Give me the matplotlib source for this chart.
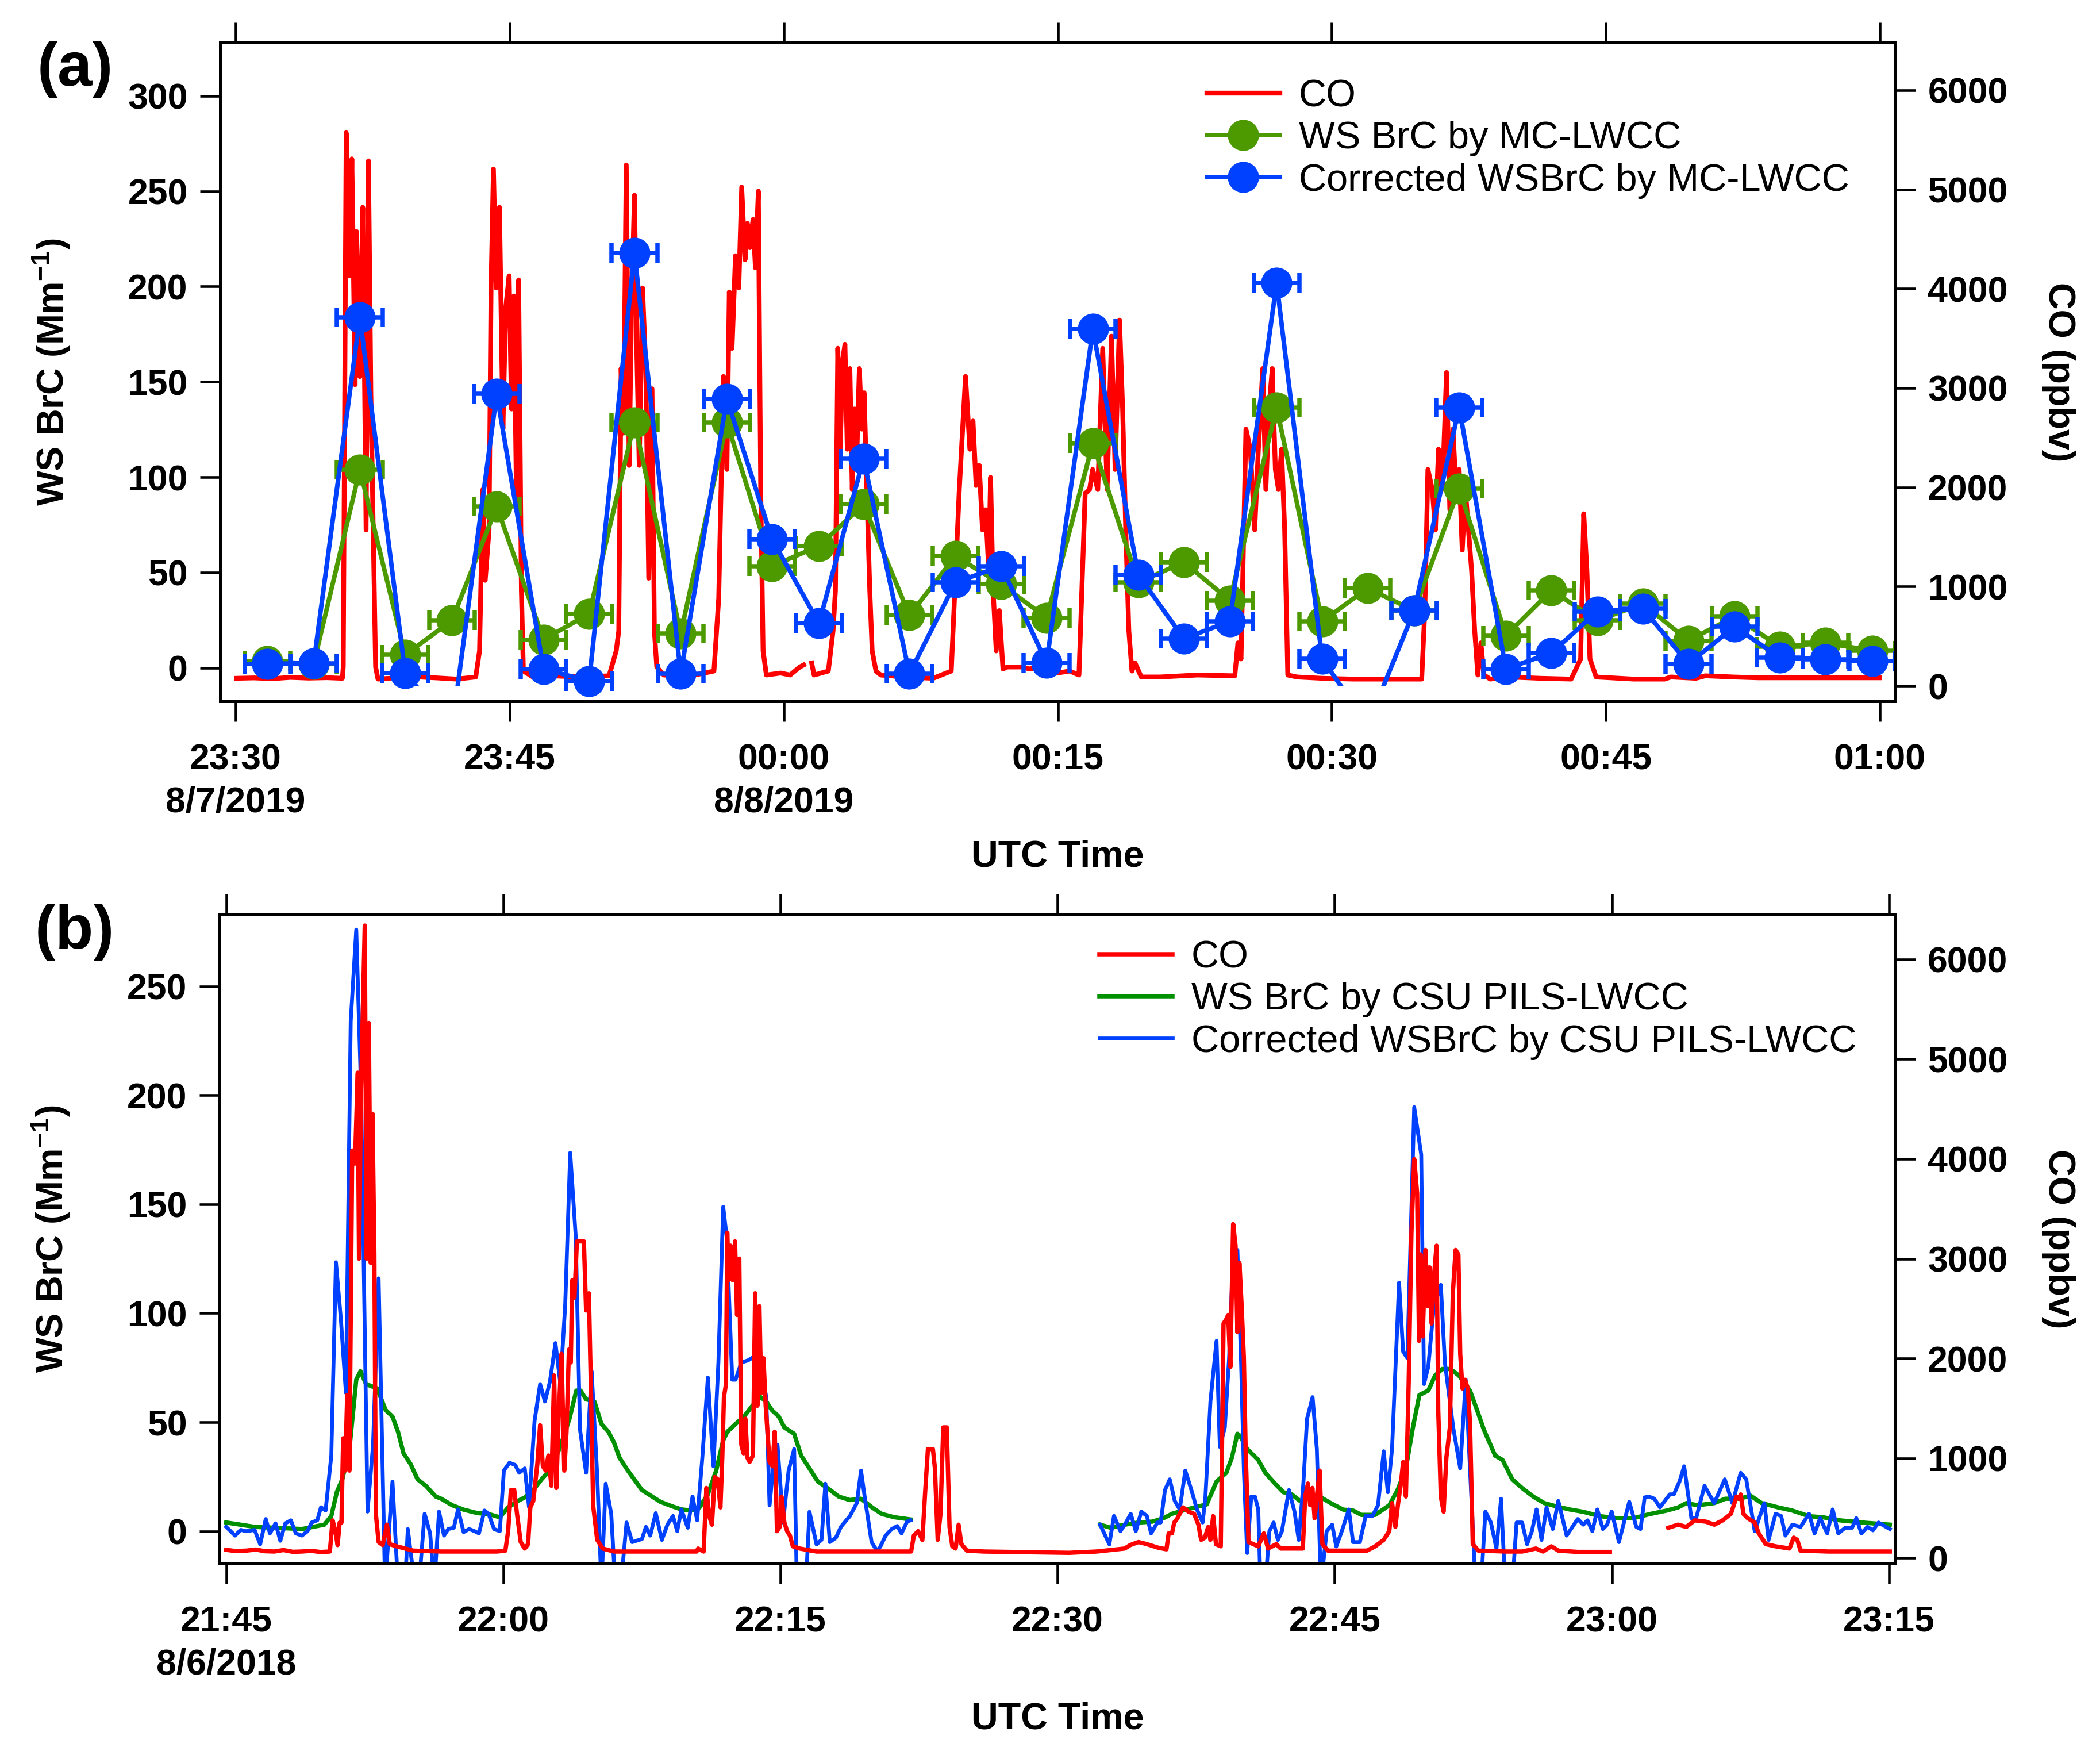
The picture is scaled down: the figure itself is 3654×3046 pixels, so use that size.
import numpy as np
import matplotlib
matplotlib.use("Agg")
import matplotlib.pyplot as plt
from matplotlib.lines import Line2D
from matplotlib.patches import Rectangle

plt.rcParams['font.family'] = ['Liberation Sans', 'DejaVu Sans']
plt.rcParams['font.weight'] = 'bold'
plt.rcParams['mathtext.fontset'] = 'custom'
plt.rcParams['mathtext.rm'] = 'Liberation Sans:bold'
plt.rcParams['mathtext.default'] = 'rm'

# ---------------- panel (a): 8/7/2019 23:30 - 01:00, minutes after 23:30
a_ticks = [0, 15, 30, 45, 60, 75, 90]
a_ticklabels = ['23:30\n8/7/2019', '23:45', '00:00\n8/8/2019', '00:15', '00:30', '00:45', '01:00']

mc_t = [1.74, 4.27, 6.80, 9.28, 11.84, 14.29, 16.85, 19.35, 21.83, 24.36, 26.89, 29.36,
        31.93, 34.37, 36.88, 39.40, 41.91, 44.39, 46.92, 49.41, 51.90, 54.42, 56.98, 59.47,
        61.96, 64.51, 66.97, 69.53, 72.02, 74.54, 77.03, 79.52, 82.05, 84.53, 87.02, 89.58]
mc_brc = [3.6, 2.0, 104, 6.8, 24.8, 84.6, 14.8, 28.3, 128.8, 18.0, 128.8, 53.3,
          63.9, 85.7, 27.5, 58.6, 43.8, 26.2, 117.8, 44.8, 55.4, 35.3, 136.5, 24.3,
          41.7, 30.0, 94.1, 16.9, 40.6, 24.8, 33.6, 14.2, 26.9, 11.0, 13.1, 8.9]
mc_brc_corr = [2.1, 2.4, 184, -2.7, -32, 143.7, -0.6, -7, 217.7, -3.1, 141, 67.5,
               23.3, 109.6, -3.1, 44.8, 53.3, 2.6, 177.7, 48.7, 15.3, 24.3, 202, 4.7,
               -30, 30.0, 136.5, -0.6, 7.8, 29.6, 31.1, 2.1, 21.6, 5.3, 4.4, 3.6]
mc_xerr = 1.25

co_a_t = [0.05, 1.0, 2.0, 3.0, 4.0, 5.0, 5.84, 5.89, 6.05, 6.23, 6.36, 6.54, 6.62, 6.80, 6.96,
          7.14, 7.27, 7.40, 7.53, 7.66, 7.79, 8.45, 8.97, 9.5, 10.01, 11.0, 12.10, 13.14,
          13.35, 13.53, 13.66, 13.87, 13.98, 14.11, 14.26, 14.44, 14.63, 14.78, 14.97, 15.10,
          15.23, 15.38, 15.49, 15.64, 15.75, 16.27, 17.31, 18.88, 20.44, 20.83, 20.97, 21.10,
          21.23, 21.38, 21.54, 21.67, 21.83, 21.96, 22.09, 22.27, 22.45, 22.61, 22.79, 22.92,
          23.05, 23.44, 24.10, 25.14, 26.18, 26.44, 26.70, 26.89, 27.02, 27.17, 27.36, 27.54,
          27.70, 27.88, 28.01, 28.14, 28.32, 28.45, 28.61, 28.74, 28.87, 29.05, 29.83, 30.35,
          30.88, 31.09, 31.3, 31.53, 31.66, 32.05, 32.44, 32.70, 32.83, 32.96, 33.09, 33.22,
          33.35, 33.48, 33.62, 33.75, 33.88, 34.01, 34.14, 34.27, 34.40, 34.58, 34.71, 34.84,
          35.05, 35.31, 36.61, 38.18, 39.17, 39.61, 39.95, 40.19, 40.36, 40.53, 40.70, 40.88,
          41.05, 41.22, 41.32, 41.46, 41.63, 41.80, 42.00, 42.24, 43.09, 43.43, 44.12, 44.97,
          45.65, 46.16, 46.50, 46.74, 46.91, 47.19, 47.46, 47.70, 47.94, 48.14, 48.38, 48.55,
          48.72, 48.89, 49.06, 49.23, 49.57, 50.60, 52.64, 54.69, 54.86, 55.03, 55.30, 55.54,
          55.78, 55.98, 56.22, 56.39, 56.56, 56.74, 56.91, 57.08, 57.25, 57.42, 57.59, 58.10,
          59.46, 61.17, 62.87, 64.92, 65.09, 65.26, 65.50, 65.67, 65.84, 66.05, 66.28, 66.46,
          66.63, 66.80, 66.97, 67.14, 67.31, 67.48, 67.65, 67.82, 67.99, 68.16, 68.33, 68.67,
          69.70, 71.40, 73.10, 73.62, 73.79, 73.96, 74.13, 74.47, 76.52, 78.22, 78.56, 79.93,
          80.44, 81.97, 83.34, 86.75, 89.99]
co_a = [76, 80, 72, 85, 78, 82, 76, 190, 5572, 4130, 5308, 3034, 4576, 3116, 4820,
        1571, 5288, 2952, 1571, 190, 68, 76, 109, 95, 89, 80, 68, 89,
        352, 1977, 1063, 1571, 4008, 5206, 4008, 4820, 2586, 3805, 4130, 2789,
        3927, 1774, 4089, 962, 149, 89, 101, 89, 101, 352, 555, 3196,
        2546, 5247, 2221, 3805, 4942, 3359, 2221, 4008, 3196, 1084, 2992, 555,
        190, 109, 101, 109, 149, 880, 3116, 2180, 3967, 3400, 4333, 4008,
        5024, 4292, 4658, 4414, 4698, 4211, 4983, 1977, 352, 109, 129, 109,
        190, 210, np.nan, 230, 109, 129, 149, 555, 962, 3400, 2383, 3278,
        3440, 2383, 3196, 1977, 2789, 2383, 3196, 2586, 2952, 1774, 962, 352,
        149, 109, 89, 76, 149, 1977, 3116, 2383, 2667, 2018, 2221, 1571,
        1774, 1165, 2099, 962, 352, 758, 170, 190, 190, 170, 190, 129,
        149, 109, 1937, 1977, 2180, 1977, 3400, 1977, 3522, 2180, 3684, 2789,
        1571, 555, 149, 230, 89, 89, 109, 101, 433, 271, 2586, 2383,
        1571, 2383, 3196, 1977, 2789, 3196, 2180, 1977, 2383, 1571, 109, 89,
        76, 68, 68, 68, 758, 2180, 1977, 1571, 2383, 1977, 3156, 1774,
        2586, 1977, 2180, 1368, 1977, 1571, 1165, 555, 109, 433, 109, 68,
        89, 76, 68, 271, 1733, 1165, 271, 89, 68, 68, 89, 76,
        101, 89, 81, 81, 81]

# ---------------- panel (b): 8/6/2018 21:45 - 23:15, minutes after 21:45
b_ticks = [0, 15, 30, 45, 60, 75, 90]
b_ticklabels = ['21:45\n8/6/2018', '22:00', '22:15', '22:30', '22:45', '23:00', '23:15']

pils_t = [0.0, 1.54, 2.6, 4.1, 5.31, 5.69, 5.99, 6.29, 6.67, 7.04, 7.27, 7.57, 8.17, 8.63,
          9.0, 9.3, 9.6, 9.98, 10.36, 10.81, 11.34, 11.64, 12.24, 12.85, 13.6, 14.2, 14.81,
          15.26, 15.79, 16.16, 16.62, 17.07, 17.6, 18.12, 18.58, 18.95, 19.18, 19.48, 19.93,
          20.31, 20.69, 20.99, 21.29, 21.74, 22.5, 23.13, 23.5, 24.11, 24.64, 25.16, 25.62,
          26.07, 26.52, 26.9, 27.12, 27.57, 28.03, 28.48, 28.93, 29.23, 29.53, 29.91, 30.21,
          30.74, 31.12, 31.49, 32.02, 32.55, 33.15, 33.76, 34.36, 34.96, 35.49, 36.17, 37.04,
          42.0,
          47.3, 47.87, 48.63, 49.38, 50.13, 50.74, 51.19, 51.79, 52.39, 53.07, 53.6, 54.13,
          54.43, 54.73, 54.88, 55.26, 55.86, 56.24, 56.77, 57.22, 57.67, 58.12, 58.73, 59.18,
          59.78, 60.46, 60.99, 61.44, 62.19, 62.95, 63.4, 63.85, 64.23, 64.58, 65.06, 65.43,
          65.81, 66.26, 66.72, 67.32, 67.7, 68.07, 68.68, 69.08, 69.61, 70.14, 70.74, 71.34,
          71.95, 72.7, 73.45, 74.36, 75.26, 76.17, 77.07, 77.98, 78.58, 79.03, 79.64, 80.54,
          81.14, 81.9, 82.5, 83.1, 84.01, 84.76, 85.67, 86.42, 87.32, 88.53, 90.04]
pils_brc = [4, 2, 1.6, 1, 3, 7, 18, 24, 37.7, 69.5, 73.4, 67.5, 65.5, 55.6,
            52.6, 45.6, 35.7, 30.8, 23.8, 20.8, 15.9, 14.9, 11.9, 9.9, 8.3, 7.9, 6.4,
            10.9, 13.9, 15.5, 18.9, 23.8, 28.8, 39.7, 51.6, 64.5, 64.5, 60.5, 59.5,
            49.2, 45.6, 40.7, 33.7, 27.8, 18.9, 15.5, 13.5, 11.5, 10, 9.5, 10.9,
            16.9, 27.8, 41.7, 45.6, 49.2, 52.6, 57.6, 61.5, 59.5, 55.6, 52.6, 47.6,
            44.7, 34.7, 29.8, 22.8, 19.8, 15.9, 14.3, 14.9, 10.9, 7.9, 6.4, 5.4,
            np.nan,
            3, 1.6, 3, 4, 4.4, 6, 8, 9.5, 10.9, 12.3, 22.8, 26.8,
            33.7, 44.7, 43.7, 37.7, 32.7, 26.8, 21.8, 17.9, 16.9, 13.9, 15.9, 15.9,
            12.9, 9.9, 9.5, 7.5, 7.5, 11.9, 18.9, 28.8, 47.6, 62.5, 64.5, 71.4,
            74.4, 74.4, 71.4, 64.5, 55.6, 46.6, 34.7, 32.7, 23.8, 19.8, 15.9, 12.9,
            11.5, 10, 8.9, 6.9, 6, 6, 7.9, 9.5, 10.9, 12.9, 11.9, 12.9,
            14.9, 14.9, 16.3, 12.9, 10.9, 9.5, 6.9, 6.4, 5, 4, 3]

pils_corr_t = [0.0, 0.48, 0.79, 1.09, 1.54, 1.84, 2.14, 2.37, 2.67, 2.93, 3.2, 3.5, 3.77, 4.1,
               4.4, 4.63, 4.93, 5.13, 5.38, 5.69, 5.94, 6.21, 6.48, 6.74, 7.04, 7.3, 7.65, 7.95,
               8.25, 8.6, 9.0, 9.3, 9.68, 9.83, 10.21, 10.43, 10.74, 11.04, 11.26, 11.52, 11.79,
               12.02, 12.32, 12.55, 12.85, 13.15, 13.45, 13.68, 13.98, 14.2, 14.5, 14.81, 15.03,
               15.33, 15.64, 15.86, 16.16, 16.39, 16.69, 16.99, 17.25, 17.52, 17.82, 18.09, 18.35,
               18.62, 18.92, 19.15, 19.48, 19.78, 20.08, 20.31, 20.54, 20.84, 21.06, 21.36, 21.67,
               21.97, 22.5, 22.72, 22.95, 23.25, 23.58, 23.88, 24.18, 24.41, 24.64, 24.98, 25.24,
               25.49, 25.77, 26.07, 26.37, 26.64, 26.9, 27.09, 27.39, 27.57, 27.88, 28.25, 28.63,
               28.93, 29.23, 29.41, 29.61, 29.84, 30.14, 30.44, 30.74, 30.89, 31.1, 31.37, 31.57,
               31.95, 32.22, 32.43, 32.67, 33.0, 33.27, 33.76, 34.13, 34.36, 34.59, 34.93, 35.23,
               35.41, 35.69, 36.02, 36.32, 36.55, 36.85, 37.04,
               42.0,
               47.3, 47.8, 48.05, 48.4, 48.7, 48.96, 49.23, 49.53, 49.83, 50.06, 50.4, 50.58,
               50.81, 51.07, 51.34, 51.61, 51.91, 52.24, 52.54, 52.85, 53.0, 53.27, 53.6, 53.78,
               54.05, 54.28, 54.5, 54.73, 54.93, 55.08, 55.26, 55.48, 55.68, 55.86, 55.98, 56.24,
               56.46, 56.69, 56.92, 57.14, 57.52, 57.82, 58.05, 58.3, 58.5, 58.8, 59.03, 59.25,
               59.56, 59.86, 60.08, 60.38, 60.76, 60.99, 61.36, 61.67, 62.04, 62.34, 62.65, 62.87,
               63.1, 63.48, 63.7, 63.93, 64.3, 64.68, 64.83, 65.06, 65.36, 65.74, 65.96, 66.41,
               66.79, 67.09, 67.4, 67.62, 67.92, 68.15, 68.45, 68.75, 69.0, 69.23, 69.61, 69.84,
               70.14, 70.41, 70.67, 70.92, 71.19, 71.46, 71.8, 72.1, 72.55, 73.15, 73.45, 73.68,
               73.94, 74.21, 74.51, 74.74, 74.99, 75.38, 75.94, 76.32, 76.55, 76.77, 77.0, 77.3,
               77.6, 78.13, 78.35, 78.66, 78.91, 79.3, 79.56, 80.01, 80.54, 81.11, 81.52, 81.97,
               82.27, 82.73, 83.25, 83.48, 83.86, 84.16, 84.39, 84.76, 85.21, 85.67, 85.97, 86.27,
               86.65, 86.95, 87.25, 87.63, 88.0, 88.23, 88.5, 88.83, 89.13, 89.43, 90.04]
pils_brc_corr = [2, -2, 0.6, 0, 0.6, -6, 5.6, -1, 3.6, -4.4, 3.6, 5, -1, -2,
                 0, 4, 5, 11, 9.5, 34.7, 123.4, 97, 63.5, 234, 276, 202, 9, 39.7,
                 116, -25, 22.8, -25, -25, 1, -25, -25, 8, -1, -25, 9, -2,
                 1, 1.6, 10, -0.4, 1, 0, -1, 9.5, 8, 1, 0, 27.8,
                 31.4, 30.4, 26.8, 28.8, 11, 50.6, 67.5, 59.5, 68.5, 86.3, 67.5, 104,
                 173.6, 135, 46.6, 26.8, 73.4, 25.8, -25, 21.8, 8, -25, -25, 4,
                 -5, -3.6, 2, -2, 8.3, -4, 3, 7, 0, 10, 1.6, 15.9,
                 5, 33.7, 70.5, 29.8, 77.4, 148.8, 135, 69.5, 69.5, 77.4, 78.4, 80.4,
                 75.4, 61.5, 11.9, 29.8, 39.7, 4, 27.8, 37.7, -25, -25, -25, 8.9,
                 -6, -4, 21.8, -5, -3, 2, 7, 12.9, 27.8, 13.9, -5, -9,
                 -7, -2, 1, 2.4, -1, 4.4, 5,
                 np.nan,
                 3, -6, 7, 0, 4, 8, 0, 9, 7, -1, 4, 4,
                 18.9, 23.8, 13.9, 10, 27.8, 18.9, 10, 4, 15.9, 59.5, 87.3, 38.7,
                 47.6, 79.4, 127, 129, 77.4, 27.8, -10, 15.9, 15.9, 10, -25, -25,
                 0, 4, -4, 0, 18.9, 9, -4, 21.8, 51.6, 61.5, 37.7, -25,
                 0, 3, -7, 0, 10, -5, -5, 7, 7, 11.9, 36.7, 17.9,
                 37.7, 114, 82.4, 79.4, 194.5, 172.7, 67.5, 75.4, 103, 113, 77.4, 47.6,
                 28.8, 69.5, 13.9, -25, -25, 9, 4, -8, 14.9, -25, -25, 4,
                 4, -6, 0, 10, -4, 10.9, 1, 13.9, -2, 5.6, 3, 5,
                 0, 10, 1, 3, 9, -5, 13.5, 2, 1, 15.5, 15.9, 14.9,
                 10.9, 16.9, 16.9, 22.8, 29.8, 6, 6, 20.8, 12.9, 23.8, 12.9, 26.8,
                 23.8, 0, 12.9, -4, 8, 7, -2, 3, 2, 8, -1, 6,
                 -1, 10, -1, 1.6, 1.6, 6, -1, 2, 0.4, 4, 1]

co_b_t = [0.0, 0.5, 1.09, 1.6, 2.1, 2.6, 3.1, 3.6, 4.1, 4.6, 5.1, 5.61, 5.76, 5.91, 6.03,
          6.14, 6.24, 6.33, 6.44, 6.55, 6.67, 6.82, 6.97, 7.12, 7.19, 7.30, 7.50, 7.60, 7.72,
          7.83, 7.92, 8.02, 8.10, 8.25, 8.47, 8.70, 8.85, 9.23, 10.13, 11.64, 14.66, 15.11,
          15.26, 15.41, 15.59, 15.74, 15.94, 16.16, 16.34, 16.46, 16.62, 16.84, 16.99, 17.14,
          17.29, 17.44, 17.60, 17.75, 17.87, 18.00, 18.15, 18.30, 18.42, 18.55, 18.65, 18.73,
          18.85, 18.98, 19.18, 19.36, 19.48, 19.63, 19.75, 19.86, 20.08, 20.38, 20.99, 23.22,
          25.46, 25.54, 25.84, 25.99, 26.14, 26.29, 26.44, 26.60, 26.75, 26.85, 26.94, 27.05,
          27.12, 27.20, 27.30, 27.42, 27.54, 27.65, 27.77, 27.88, 28.00, 28.10, 28.21, 28.33,
          28.51, 28.63, 28.75, 28.86, 28.96, 29.08, 29.20, 29.31, 29.41, 29.57, 29.69, 29.81,
          29.96, 30.06, 30.21, 30.36, 30.51, 30.67, 31.04, 31.95, 37.07, 37.22, 37.45, 37.68,
          37.83, 37.98, 38.25, 38.36, 38.51, 38.66, 38.81, 39.00, 39.15, 39.30, 39.48, 39.64,
          39.79, 40.09, 41.00, 45.61, 47.12, 48.63, 48.93, 49.38, 49.83, 50.43, 50.89, 51.01,
          51.19, 51.31, 51.49, 51.79, 52.09, 52.39, 52.62, 52.77, 52.97, 53.15, 53.27, 53.42,
          53.57, 53.83, 53.98, 54.13, 54.23, 54.35, 54.50, 54.63, 54.73, 54.84, 54.96, 55.08,
          55.18, 55.33, 55.86, 56.16, 56.39, 56.84, 57.07, 58.27, 58.40, 58.55, 58.67, 58.79,
          58.91, 59.03, 59.18, 59.33, 59.63, 61.74, 62.19, 62.65, 62.95, 63.10, 63.28, 63.43,
          63.58, 63.70, 63.85, 64.00, 64.15, 64.30, 64.46, 64.56, 64.65, 64.76, 64.91, 65.03,
          65.13, 65.24, 65.39, 65.51, 65.60, 65.74, 65.89, 66.04, 66.23, 66.39, 66.54, 66.69,
          66.79, 66.91, 67.05, 67.20, 67.32, 67.47, 67.77, 69.25, 70.14, 70.89, 71.27, 71.72,
          72.10, 73.15, 74.89, 76.5, 78.05, 78.58, 79.03, 79.48, 80.09, 80.54, 80.99, 81.44,
          81.75, 81.87, 81.97, 82.12, 82.35, 82.73, 82.95, 83.33, 83.86, 84.61, 84.84, 85.03,
          85.21, 86.72, 90.04]
co_b = [82, 70, 74, 85, 68, 65, 80, 62, 65, 72, 60, 65, 377, 269, 130,
        355, 355, 1200, 876, 1634, 876, 4084, 3953, 4864, 3000, 4690, 6338, 3000, 5362,
        2956, 4452, 3043, 442, 160, 130, 334, 139, 117, 74, 65, 65, 74,
        269, 681, 681, 442, 160, 95, 139, 507, 572, 941, 1331, 919,
        876, 1027, 724, 1829, 702, 1439, 2046, 876, 1266, 2089, 1959, 2783,
        2610, 3173, 3173, 3173, 2480, 2653, 1613, 529, 182, 95, 65, 65,
        65, 95, 65, 702, 420, 334, 811, 789, 507, 1006, 1613, 1743,
        3260, 2783, 3130, 2783, 3173, 2436, 3000, 1136, 1049, 1396, 1006, 962,
        1027, 2653, 1526, 2523, 1656, 2003, 1526, 1222, 962, 919, 1266, 269,
        312, 616, 355, 269, 225, 117, 95, 65, 65, 225, 269, 182,
        659, 1092, 1092, 897, 182, 442, 1309, 1309, 312, 117, 95, 334,
        139, 74, 65, 52, 65, 95, 130, 160, 139, 104, 87, 247,
        247, 355, 399, 507, 464, 442, 334, 182, 204, 312, 182, 420,
        139, 117, 2350, 2393, 2436, 1916, 3347, 3130, 2263, 2956, 2523, 2003,
        1049, 160, 117, 247, 95, 139, 95, 95, 616, 746, 529, 702,
        399, 616, 876, 139, 74, 74, 117, 182, 269, 551, 312, 551,
        746, 962, 616, 1743, 3260, 3997, 3650, 2176, 3043, 2220, 3087, 2523,
        2913, 2350, 2870, 3130, 1483, 616, 464, 1006, 1309, 2653, 3087, 3043,
        2046, 1699, 1786, 1699, 1353, 139, 74, 65, 65, 95, 65, 117,
        74, 61, 61, np.nan, 303, 334, 312, 377, 364, 334, 377, 442,
        616, 594, 637, 442, 399, 355, 247, 139, 117, 95, 204, 182,
        74, 65, 65]

red = '#ff0000'
green_a = '#4c9a00'
green_b = '#009000'
blue = '#0040ff'

fig = plt.figure(figsize=(3654 / 300, 3046 / 300), dpi=300)
ax_a = fig.add_axes([0.10482, 0.59947, 0.79776, 0.37623])
ax_b = fig.add_axes([0.10454, 0.10703, 0.79800, 0.37081])


def style_axes(ax, ax2, ticks, ticklabels, xlim, ylim, y2lim, yticks):
    ax.set_xlim(xlim)
    ax.set_ylim(ylim)
    ax2.set_ylim(y2lim)
    ax.set_xticks(ticks)
    ax.set_xticklabels(ticklabels, fontsize=15, fontweight='bold', linespacing=1.32)
    ax.set_yticks(yticks)
    ax.set_yticklabels([str(v) for v in yticks], fontsize=15, fontweight='bold')
    ax2.set_yticks([0, 1000, 2000, 3000, 4000, 5000, 6000])
    ax2.set_yticklabels(['0', '1000', '2000', '3000', '4000', '5000', '6000'],
                        fontsize=15, fontweight='bold')
    ax.tick_params(axis='both', direction='out', length=8.5, width=1.1, pad=5)
    ax.tick_params(axis='x', top=True, labeltop=False, pad=9)
    ax2.tick_params(axis='y', direction='out', length=8.5, width=1.1, pad=5)
    for a in (ax, ax2):
        for s in a.spines.values():
            s.set_linewidth(1.2)
    ax.set_ylabel('WS BrC (Mm$^{-1}$)', fontsize=15.5, fontweight='bold')
    ax.yaxis.set_label_coords(-0.088, 0.5)
    ax2.set_ylabel('CO (ppbv)', fontsize=15.5, fontweight='bold', rotation=270, va='bottom')
    ax2.yaxis.set_label_coords(1.087, 0.5)
    ax.set_xlabel('UTC Time', fontsize=15.5, fontweight='bold')


# ---- panel (a)
ax2_a = ax_a.twinx()
ax_a.set_zorder(ax2_a.get_zorder() + 1)
ax_a.patch.set_visible(False)

l_co_a, = ax2_a.plot(co_a_t, co_a, color=red, lw=2.0)
ax_a.errorbar(mc_t, mc_brc, xerr=mc_xerr, fmt='none', ecolor=green_a,
              elinewidth=1.8, capsize=4, capthick=1.8)
ax_a.plot(mc_t, mc_brc, '-o', color=green_a, lw=1.9, ms=12)
ax_a.errorbar(mc_t, mc_brc_corr, xerr=mc_xerr, fmt='none', ecolor=blue,
              elinewidth=1.8, capsize=4, capthick=1.8)
# connecting line is cut a little above the bottom spine, as in the original
blue_line, = ax_a.plot(mc_t, mc_brc_corr, '-', color=blue, lw=1.9)
blue_line.set_clip_path(Rectangle((-5, -9.5), 110, 400, transform=ax_a.transData))
ax_a.plot(mc_t, mc_brc_corr, 'o', color=blue, ms=12)

style_axes(ax_a, ax2_a, a_ticks, a_ticklabels, (-0.85, 90.85), (-17.6, 328),
           (-156, 6480), [0, 50, 100, 150, 200, 250, 300])
ax_a.xaxis.set_label_coords(0.5, -0.210)

h_g_a = Line2D([], [], color=green_a, lw=1.9, marker='o', ms=12)
h_b_a = Line2D([], [], color=blue, lw=1.9, marker='o', ms=12)
ax_a.legend([l_co_a, h_g_a, h_b_a],
            ['CO', 'WS BrC by MC-LWCC', 'Corrected WSBrC by MC-LWCC'],
            loc='upper left', bbox_to_anchor=(0.5747, 0.955), bbox_transform=fig.transFigure,
            frameon=False, borderaxespad=0, borderpad=0, handlelength=1.9,
            handletextpad=0.5, labelspacing=0.17,
            prop={'family': 'Liberation Sans', 'weight': 'normal', 'size': 16})

# ---- panel (b)
ax2_b = ax_b.twinx()
l_g_b, = ax_b.plot(pils_t, pils_brc, color=green_b, lw=1.8)
l_b_b, = ax_b.plot(pils_corr_t, pils_brc_corr, color=blue, lw=1.6)
l_co_b, = ax2_b.plot(co_b_t, co_b, color=red, lw=1.8)

style_axes(ax_b, ax2_b, b_ticks, b_ticklabels, (-0.36, 90.34), (-14.85, 283.0),
           (-56, 6451), [0, 50, 100, 150, 200, 250])
ax_b.xaxis.set_label_coords(0.5, -0.213)

ax2_b.legend([l_co_b, l_g_b, l_b_b],
             ['CO', 'WS BrC by CSU PILS-LWCC', 'Corrected WSBrC by CSU PILS-LWCC'],
             loc='upper left', bbox_to_anchor=(0.5235, 0.4632), bbox_transform=fig.transFigure,
             frameon=False, borderaxespad=0, borderpad=0, handlelength=1.9,
             handletextpad=0.5, labelspacing=0.17,
             prop={'family': 'Liberation Sans', 'weight': 'normal', 'size': 16})

fig.text(131 / 3654, 1 - 121 / 3046, '(a)', ha='center', va='center', fontsize=26, fontweight='bold')
fig.text(130 / 3654, 1 - 1622 / 3046, '(b)', ha='center', va='center', fontsize=26, fontweight='bold')

fig.savefig('out.png', dpi=300)
